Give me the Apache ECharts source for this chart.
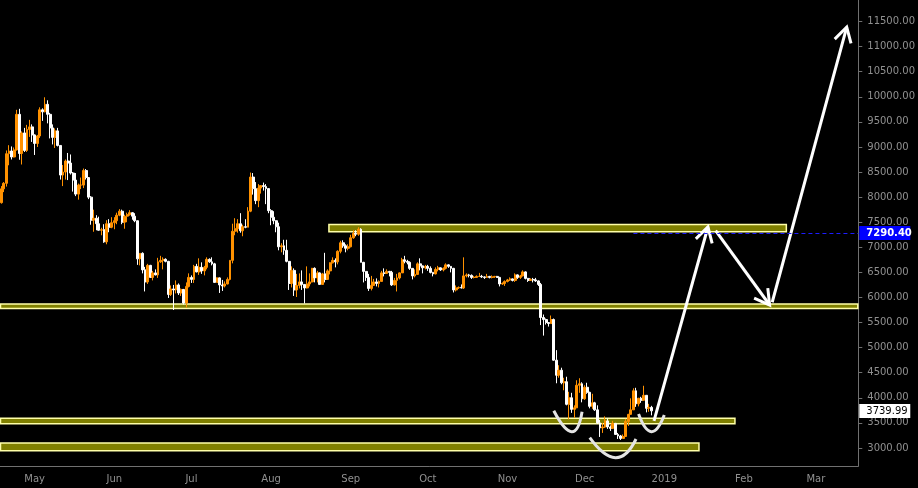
<!DOCTYPE html>
<html><head><meta charset="utf-8">
<script src="https://cdn.jsdelivr.net/npm/echarts@6/dist/echarts.min.js"></script>
<style>html,body{margin:0;padding:0;background:#000;}#c{width:918px;height:488px;}</style>
</head><body><div id="c"></div><script>
// ---- categories: one per day, 2018-04-18 .. 2019-03-17
const firstDay = Date.UTC(2018, 3, 18);
const dayCount = 334;
const categories = [];
for (let i = 0; i < dayCount; i++) {
  categories.push(new Date(firstDay + i * 86400000).toISOString().slice(0, 10));
}
// ---- month tick labels
const tickDates = ['2018-05-01','2018-06-01','2018-07-01','2018-08-01','2018-09-01','2018-10-01','2018-11-01','2018-12-01','2019-01-01','2019-02-01','2019-03-01'];
const tickLabels = ['May','Jun','Jul','Aug','Sep','Oct','Nov','Dec','2019','Feb','Mar'];
const yTicks = [3000,3500,4000,4500,5000,5500,6000,6500,7000,7500,8000,8500,9000,9500,10000,10500,11000,11500];

// ---- daily OHLC, 2018-04-18 .. 2018-12-27
const opens = [
7890,8165,8275,8865,8920,8800,8940,9650,8870,9280,8930,9350,9400,
9240,9070,9220,9740,9700,9850,9650,9380,9190,9320,9030,8440,8500,8720,8680,8480,8340,8060,8240,8240,8530,8390,8000,7540,7580,7470,7340,7350,7110,7470,7400,
7490,7530,7640,7720,7500,7620,7650,7690,7620,7530,6770,6880,6550,6310,6640,6400,6490,6450,6710,6740,6760,6720,6060,6170,6150,6250,6090,6160,5890,6220,
6400,6360,6620,6510,6600,6530,6600,6760,6710,6670,6300,6390,6250,6230,6270,6360,6740,7320,7370,7470,7330,7410,7400,7720,8400,8170,7930,8180,8230,8210,8170,
7730,7600,7530,7410,7010,7030,6940,6720,6280,6540,6150,6240,6310,6260,6190,6270,6310,6580,6390,6490,6260,6470,6360,6530,6690,6740,6710,6920,7090,7030,6980,
7010,7190,7280,7260,7360,6700,6520,6400,6180,6240,6310,6280,6320,6490,6480,6520,6500,6250,6340,6390,6490,6750,6720,6700,6580,6430,6460,6670,6630,6590,
6620,6580,6500,6470,6560,6590,6550,6580,6650,6620,6580,6150,6190,6200,6190,6430,6450,6440,6400,6400,6420,6420,6410,6400,6420,6400,6410,6420,6400,6270,6280,
6320,6350,6370,6340,6450,6400,6430,6510,6380,6340,6360,6350,6330,6260,5600,5560,5500,5480,5560,4750,4450,4550,4300,4320,3870,4000,3770,3800,4250,4280,
3980,4210,4110,3830,3900,3760,3500,3400,3420,3540,3420,3390,3490,3270,3240,3190,3230,3530,3670,3760,4140,3880,3990,3950,4050,3790,3810];
const closes = [
8165,8275,8865,8920,8800,8940,9650,8870,9280,8930,9350,9400,9240,
9070,9220,9740,9700,9850,9650,9380,9190,9320,9030,8440,8500,8720,8680,8480,8340,8060,8240,8240,8530,8390,8000,7540,7580,7470,7340,7350,7110,7470,7400,7490,
7530,7640,7720,7500,7620,7650,7690,7620,7530,6770,6880,6550,6310,6640,6400,6490,6450,6710,6740,6760,6720,6060,6170,6150,6250,6090,6160,5890,6220,6400,
6360,6620,6510,6600,6530,6600,6760,6710,6670,6300,6390,6250,6230,6270,6360,6740,7320,7370,7470,7330,7410,7400,7720,8400,8170,7930,8180,8230,8210,8170,7730,
7600,7530,7410,7010,7030,6940,6720,6280,6540,6150,6240,6310,6260,6190,6270,6310,6580,6390,6490,6260,6470,6360,6530,6690,6740,6710,6920,7090,7030,6980,7010,
7190,7280,7260,7360,6700,6520,6400,6180,6240,6310,6280,6320,6490,6480,6520,6500,6250,6340,6390,6490,6750,6720,6700,6580,6430,6460,6670,6630,6590,6620,
6580,6500,6470,6560,6590,6550,6580,6650,6620,6580,6150,6190,6200,6190,6430,6450,6440,6400,6400,6420,6420,6410,6400,6420,6400,6410,6420,6400,6270,6280,6320,
6350,6370,6340,6450,6400,6430,6510,6380,6340,6360,6350,6330,6260,5600,5560,5500,5480,5560,4750,4450,4550,4300,4320,3870,4000,3770,3800,4250,4280,3980,
4210,4110,3830,3900,3760,3500,3400,3420,3540,3420,3390,3490,3270,3240,3190,3230,3530,3670,3760,4140,3880,3990,3950,4050,3790,3810,3739.99];
const highs = [
8220,8300,8930,9035,9010,8990,9740,9760,9310,9380,9440,9540,9450,
9250,9240,9790,9770,9990,9930,9680,9450,9370,9380,9030,8640,8750,8880,8850,8500,8480,8270,8390,8570,8560,8400,8020,7750,7640,7610,7390,7460,7540,7560,7600,
7600,7690,7760,7750,7650,7690,7740,7700,7680,7530,6880,6900,6610,6670,6650,6530,6560,6790,6830,6800,6780,6730,6240,6250,6340,6280,6180,6170,6300,6480,
6440,6650,6670,6780,6700,6630,6800,6780,6800,6690,6400,6400,6350,6320,6400,6740,7470,7580,7560,7680,7450,7560,7800,8490,8480,8300,8260,8230,8290,8260,8170,
7760,7720,7540,7490,7080,7150,7150,6720,6620,6580,6470,6480,6540,6260,6620,6480,6590,6600,6530,6500,6490,6890,6560,6700,6800,6780,6940,7130,7140,7060,7060,
7250,7340,7340,7400,7380,6710,6520,6470,6430,6370,6380,6340,6530,6580,6560,6530,6530,6390,6470,6500,6790,6830,6750,6720,6580,6560,6700,6780,6630,6650,
6650,6620,6510,6600,6630,6600,6600,6680,6660,6620,6590,6240,6220,6260,6800,6480,6470,6460,6430,6440,6490,6450,6420,6470,6430,6440,6430,6430,6410,6300,6340,
6370,6400,6380,6480,6460,6450,6540,6520,6390,6380,6390,6390,6340,6290,5660,5580,5510,5640,5580,4950,4650,4600,4400,4420,4120,4100,3850,4350,4390,4310,
4250,4300,4120,4080,3920,3850,3560,3500,3630,3590,3450,3540,3500,3300,3260,3270,3580,3680,3990,4190,4200,4000,4020,4240,4050,3880,3840];
const lows = [
7870,8100,8210,8635,8750,8790,8930,8745,8650,8900,8900,9200,9100,
8840,9000,9180,9520,9690,9470,9170,9050,8980,9010,8350,8220,8350,8340,8450,8110,8020,7950,8160,8180,8350,7960,7450,7310,7340,7330,7240,7090,7060,7300,7380,
7360,7460,7620,7460,7370,7500,7630,7550,7500,6650,6640,6480,6120,6270,6390,6340,6440,6390,6690,6560,6700,5990,6030,5750,6080,6050,6030,5860,5800,6200,
6290,6290,6500,6450,6470,6440,6560,6690,6640,6300,6300,6090,6130,6200,6260,6340,6680,7240,7290,7290,7220,7380,7400,7700,8050,7860,7800,8070,8130,7860,7680,
7440,7460,7300,6940,6900,6850,6700,6150,6200,6030,6010,6180,6150,5880,6180,6220,6300,6300,6300,6250,6260,6300,6350,6460,6680,6600,6660,6880,6990,6900,6940,
7000,7170,7220,7230,6700,6300,6330,6130,6140,6230,6220,6200,6320,6420,6470,6420,6230,6240,6120,6360,6490,6680,6660,6550,6360,6400,6450,6540,6480,6560,
6530,6480,6420,6460,6520,6530,6520,6560,6590,6500,6100,6120,6170,6180,6170,6400,6400,6370,6380,6390,6410,6390,6370,6390,6380,6380,6390,6390,6220,6250,6230,
6300,6330,6320,6310,6370,6370,6420,6360,6310,6330,6300,6310,6230,5450,5240,5460,5420,5480,4740,4290,4400,4270,4150,3850,3570,3700,3600,3800,4100,3910,
3960,4080,3790,3780,3740,3480,3220,3300,3400,3380,3340,3380,3260,3180,3160,3190,3220,3440,3670,3760,3820,3830,3900,3950,3710,3720,3650];

// ---- annotations (dates, prices)
const bands = [ // [from, to, low, high]
  ['2018-08-24','2019-02-17',7309,7456],
  ['2018-04-18','2019-03-17',5779,5870],
  ['2018-04-18','2019-01-28',3484,3592],
  ['2018-04-18','2019-01-14',2946,3100]
];
const arrows = [ // [fromDate, fromPrice, toDate, toPrice]
  ['2018-12-28',3540,'2019-01-18',7405],
  ['2019-01-21',7330,'2019-02-11',5850],
  ['2019-02-12',5905,'2019-03-13',11390]
];
const arcs = [ // [start, startPrice, bottom, bottomPrice, end, endPrice]
  ['2018-11-19',3743,'2018-11-26',3325,'2018-11-30',3723],
  ['2018-12-03',3205,'2018-12-13',2807,'2018-12-21',3179],
  ['2018-12-22',3677,'2018-12-27',3325,'2019-01-01',3657]
];
const tagPrices = [7290.40, 3739.99];
const tagDashFrom = ['2018-12-20', null];
const tagBg = ['#0000ff', '#ffffff'];
const tagFg = ['#ffffff', '#000000'];

// ---- build
const ci = d => categories.indexOf(d);
const tickMap = {};
tickDates.forEach((d, i) => tickMap[d] = tickLabels[i]);
const isTick = (i, v) => tickMap[v] !== undefined;
const candleData = opens.map((o, i) => [o, closes[i], lows[i], highs[i]]);

const chart = echarts.init(document.getElementById('c'));
chart.setOption({
  backgroundColor: '#000000',
  animation: false,
  grid: { left: 0, right: 56, top: 0, bottom: 22 },
  xAxis: {
    type: 'category', data: categories, boundaryGap: true,
    axisLine: { lineStyle: { color: '#707070', width: 1 } },
    axisTick: { alignWithLabel: true, interval: isTick, length: 4, lineStyle: { color: '#707070' } },
    axisLabel: { interval: isTick, formatter: v => tickMap[v] || '', color: '#909090',
      fontFamily: 'DejaVu Sans', fontSize: 10, margin: 8 },
    splitLine: { show: false }
  },
  yAxis: {
    type: 'value', position: 'right', min: 2641, max: 11929, scale: true,
    axisLine: { show: true, lineStyle: { color: '#707070', width: 1 } },
    axisTick: { show: true, length: 4, customValues: yTicks, lineStyle: { color: '#707070' } },
    axisLabel: { customValues: yTicks, formatter: v => v.toFixed(2), color: '#909090',
      fontFamily: 'DejaVu Sans', fontSize: 10, margin: 9 },
    splitLine: { show: false }
  },
  series: [
    {
      type: 'custom', z: 1, clip: false,
      encode: { x: [0, 1], y: [2, 3] },
      data: bands.map(b => [ci(b[0]), ci(b[1]), b[2], b[3]]),
      renderItem: (params, api) => {
        const cs = params.coordSys;
        const bw = api.size([1, 0])[0];
        let x1 = api.coord([api.value(0), api.value(2)])[0] - bw / 2;
        let x2 = api.coord([api.value(1), api.value(2)])[0] + bw / 2;
        x1 = Math.max(x1, cs.x + 0.5); x2 = Math.min(x2, cs.x + cs.width - 0.5);
        const yTop = api.coord([api.value(0), api.value(3)])[1];
        const yBot = api.coord([api.value(0), api.value(2)])[1];
        return { type: 'rect', shape: { x: x1, y: yTop, width: x2 - x1, height: yBot - yTop },
          style: { fill: '#808000', stroke: '#ffffa8', lineWidth: 1.5 } };
      }
    },
    {
      type: 'candlestick', z: 2, barWidth: 2.4,
      data: candleData,
      itemStyle: { color: '#ff9100', color0: '#ffffff', borderColor: '#ff9100', borderColor0: '#ffffff', borderWidth: 1 }
    },
    {
      type: 'custom', z: 3, clip: false,
      encode: { x: [0, 2, 4], y: [1, 3, 5] },
      data: arcs.map(a => [ci(a[0]), a[1], ci(a[2]), a[3], ci(a[4]), a[5]]),
      renderItem: (params, api) => {
        const s = api.coord([api.value(0), api.value(1)]);
        const b = api.coord([api.value(2), api.value(3)]);
        const e = api.coord([api.value(4), api.value(5)]);
        const c = [2 * b[0] - (s[0] + e[0]) / 2, 2 * b[1] - (s[1] + e[1]) / 2];
        return { type: 'bezierCurve', shape: { x1: s[0], y1: s[1], x2: e[0], y2: e[1], cpx1: c[0], cpy1: c[1] },
          style: { stroke: '#e4e4e4', lineWidth: 3, fill: null } };
      }
    },
    {
      type: 'custom', z: 4, clip: false,
      encode: { x: [0, 2], y: [1, 3] },
      data: arrows.map(a => [ci(a[0]), a[1], ci(a[2]), a[3]]),
      renderItem: (params, api) => {
        const p1 = api.coord([api.value(0), api.value(1)]);
        const p2 = api.coord([api.value(2), api.value(3)]);
        const ang = Math.atan2(p1[1] - p2[1], p1[0] - p2[0]);
        const L = 17, A = 0.52;
        const b1 = [p2[0] + L * Math.cos(ang + A), p2[1] + L * Math.sin(ang + A)];
        const b2 = [p2[0] + L * Math.cos(ang - A), p2[1] + L * Math.sin(ang - A)];
        return { type: 'group', children: [
          { type: 'line', shape: { x1: p1[0], y1: p1[1], x2: p2[0], y2: p2[1] }, style: { stroke: '#ffffff', lineWidth: 3 } },
          { type: 'polyline', shape: { points: [b1, p2, b2] }, style: { stroke: '#ffffff', lineWidth: 3, fill: null } }
        ] };
      }
    },
    {
      type: 'custom', z: 5, clip: false,
      encode: { x: 0, y: 1 },
      data: tagPrices.map((p, i) => [tagDashFrom[i] ? ci(tagDashFrom[i]) : 0, p]),
      renderItem: (params, api) => {
        const i = params.dataIndex;
        const cs = params.coordSys;
        const xr = cs.x + cs.width;
        const y = Math.round(api.coord([0, api.value(1)])[1]);
        const ch = [];
        if (tagDashFrom[i]) {
          const xs = api.coord([api.value(0), api.value(1)])[0];
          ch.push({ type: 'line', shape: { x1: xs, y1: y + 0.5, x2: xr, y2: y + 0.5 },
            style: { stroke: '#1c1cff', lineWidth: 1, lineDash: [4, 3] } });
        }
        ch.push({ type: 'rect', shape: { x: xr + 1, y: y - 7, width: 51, height: 14 }, style: { fill: tagBg[i] } });
        ch.push({ type: 'text', x: xr + 8, y: y,
          style: { text: api.value(1).toFixed(2), fill: tagFg[i], font: (i === 0 ? 'bold ' : '') + '10px "DejaVu Sans"',
            align: 'left', verticalAlign: 'middle' } });
        return { type: 'group', children: ch };
      }
    }
  ]
});
</script></body></html>
